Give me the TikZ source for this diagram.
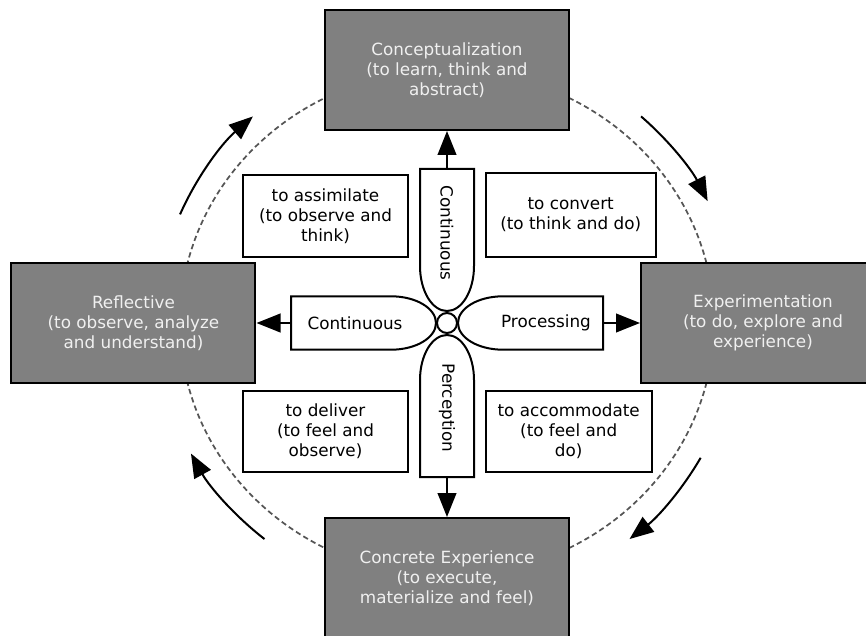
\documentclass[tikz,border=0pt]{standalone}
\usepackage{fontspec}
\setmainfont{DejaVu Sans}
\usetikzlibrary{arrows.meta,calc}
\definecolor{boxgray}{HTML}{808080}
\definecolor{boxtext}{HTML}{F0F0F0}
\definecolor{dashgray}{HTML}{555555}
\begin{document}
\begin{tikzpicture}[x=0.75pt,y=0.75pt,
  txt/.style={font=\fontsize{12.6pt}{15pt}\selectfont, align=center},
  outerbox/.style={txt, draw=black, line width=1.5pt, fill=boxgray, text=boxtext,
    minimum width=183pt, minimum height=90pt, inner sep=0pt},
  innerbox/.style={txt, draw=black, line width=1.5pt, fill=white, inner sep=0pt},
  petal/.style={draw=black, line width=1.5pt, fill=white},
  arr/.style={line width=1.5pt, -{Triangle[length=18pt,width=14pt]}},
  cyc/.style={line width=1.5pt, -{Triangle[length=18pt,width=14pt]}},
  ring/.style={draw=dashgray, line width=1.3pt, dash pattern=on 4pt off 2.5pt}
]
\useasboundingbox (-447,-312) rectangle (419,323);
\clip (-447,-312) rectangle (419,323);

% dashed ring
\draw[ring] (0,0) ellipse [x radius=267, y radius=253];

% outer boxes
\node[outerbox] (concept) at (0,253) {Conceptualization\\(to learn, think and\\abstract)};
\node[outerbox] (reflect) at (-313.5,0) {Reflective\\(to observe, analyze\\and understand)};
\node[outerbox] (exper) at (316,0) {Experimentation\\(to do, explore and\\experience)};
\node[outerbox] (concrete) at (0,-255) {Concrete Experience\\(to execute,\\materialize and feel)};

% inner boxes
\node[innerbox, minimum width=124.2pt, minimum height=61.3pt] (assim) at (-121.5,107.2) {to assimilate\\(to observe and\\think)};
\node[innerbox, minimum width=127.5pt, minimum height=62.5pt] (conv) at (123.7,108) {to convert\\(to think and do)};
\node[innerbox, minimum width=124.2pt, minimum height=61.2pt] (deliv) at (-121.5,-108.5) {to deliver\\(to feel and\\observe)};
\node[innerbox, minimum width=124.5pt, minimum height=61.2pt] (accom) at (121.7,-108.5) {to accommodate\\(to feel and\\do)};

% petals
\draw[petal] (-27,154) -- (27,154) -- (27,57) arc[start angle=0,end angle=-180,x radius=27,y radius=45] -- cycle;
\draw[petal] (-27,-154) -- (27,-154) -- (27,-57) arc[start angle=0,end angle=180,x radius=27,y radius=45] -- cycle;
\draw[petal] (-156,26.7) -- (-56,26.7) arc[start angle=90,end angle=-90,x radius=45,y radius=26.7] -- (-156,-26.7) -- cycle;
\draw[petal] (156,26.7) -- (56,26.7) arc[start angle=90,end angle=270,x radius=45,y radius=26.7] -- (156,-26.7) -- cycle;

\node[draw, circle, line width=1.5pt, fill=white, minimum size=15pt, inner sep=0pt] (hub) at (0,0) {};

% petal labels
\node[txt, rotate=-90] (ltop) at (0,90) {Continuous};
\node[txt, rotate=-90] (lbot) at (0,-85) {Perception};
\node[txt] (lleft) at (-92,0) {Continuous};
\node[txt] (lright) at (99,0) {Processing};

% petal ends
\coordinate (ptop) at (0,154);
\coordinate (pbot) at (0,-154);
\coordinate (pleft) at (-156,0);
\coordinate (pright) at (156,0);

\draw[arr] (ptop) -- (concept.south);
\draw[arr] (pbot) -- (concrete.north);
\draw[arr] (pleft) -- (reflect.east);
\draw[arr] (pright) -- (exper.west);

% cycle arrows
\coordinate (c1) at (157:290 and 278);
\coordinate (c2) at (48:290 and 278);
\coordinate (c3) at (-29:290 and 278);
\coordinate (c4) at (231:290 and 278);
\draw[cyc] (c1) arc[start angle=157,end angle=132,x radius=290,y radius=278];
\draw[cyc] (c2) arc[start angle=48,end angle=26,x radius=290,y radius=278];
\draw[cyc] (c3) arc[start angle=-29,end angle=-51,x radius=290,y radius=278];
\draw[cyc] (c4) arc[start angle=231,end angle=208,x radius=290,y radius=278];
\end{tikzpicture}
\end{document}
